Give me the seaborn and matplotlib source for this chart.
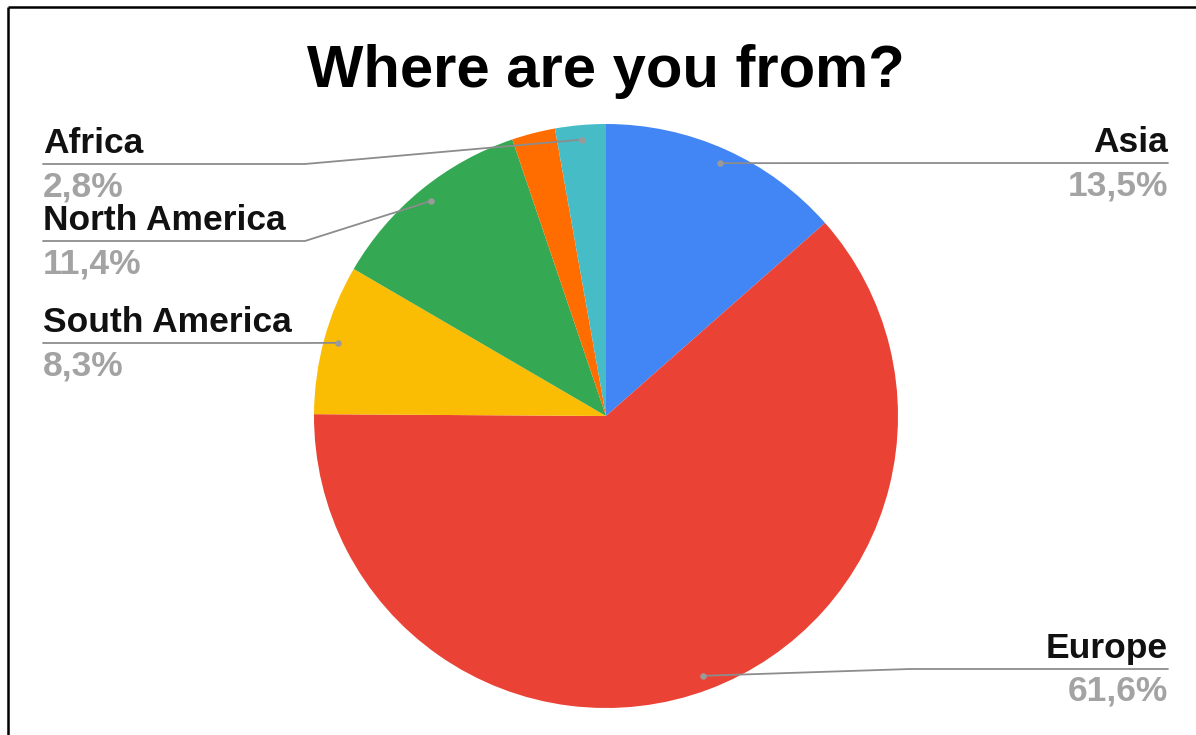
import matplotlib
matplotlib.use("Agg")
import matplotlib.pyplot as plt
import numpy as np
import seaborn as sns

# Survey answers (share of respondents, %), clockwise from 12 o'clock
regions = ["Asia", "Europe", "South America", "North America", "Oceania", "Africa"]
shares = [13.5, 61.6, 8.3, 11.4, 2.4, 2.8]
slice_colors = ["#4285F4", "#EA4335", "#FBBC04", "#34A853", "#FF6D01", "#46BDC6"]
title = "Where are you from?"

# Callout layout: side of the chart and height (px from top) of the label rule
callout_side = {"Asia": "right", "Europe": "right", "South America": "left",
                "North America": "left", "Africa": "left"}
callout_y = {"Asia": 163, "Europe": 669, "South America": 343,
             "North America": 241, "Africa": 164}

sns.set_theme(style="white")
plt.rcParams["font.family"] = ["Liberation Sans", "DejaVu Sans"]

W, H = 1196, 735
fig = plt.figure(figsize=(W / 100, H / 100), dpi=100)
ax = fig.add_axes([0, 0, 1, 1])

palette = sns.color_palette(slice_colors)
cx, cy, R = 606, H - 416, 292
wedges, _ = ax.pie(shares, colors=palette, startangle=90, counterclock=False,
                   center=(cx, cy), radius=R, wedgeprops=dict(linewidth=0))
ax.set_aspect("auto")
ax.set_xlim(0, W)
ax.set_ylim(0, H)
ax.axis("off")

total = sum(shares)
line_col = "#8c8c8c"
left_x, right_x = 43, 1168
elbow = {"left": 305, "right": 910}
label_size = 25.5

for w, name, val in zip(wedges, regions, shares):
    if name not in callout_side:
        continue
    side = callout_side[name]
    mid = np.deg2rad((w.theta1 + w.theta2) / 2)
    dx, dy = cx + 0.95 * R * np.cos(mid), cy + 0.95 * R * np.sin(mid)
    ly = H - callout_y[name]
    ex = elbow[side]
    end = left_x if side == "left" else right_x
    ax.plot([dx, ex, end], [dy, ly, ly], color=line_col, lw=1.3,
            solid_joinstyle="round", zorder=3)
    ax.scatter([dx], [dy], s=22, color="#9a9a9a", zorder=4, linewidths=0)
    ha = "left" if side == "left" else "right"
    ax.text(end, ly + 11, name, ha=ha, va="baseline", fontsize=label_size,
            fontweight="bold", color="#111111", zorder=5)
    pct = f"{val / total * 100:.1f}".replace(".", ",") + "%"
    ax.text(end, ly - 32, pct, ha=ha, va="baseline", fontsize=label_size,
            fontweight="bold", color="#a3a3a3", zorder=5)

ax.text(606, H - 87, title, ha="center", va="baseline", fontsize=43,
        fontweight="bold", color="#000000")

# Outer frame (top and left edges)
ax.plot([8, W], [H - 7, H - 7], color="black", lw=1.8, solid_capstyle="butt")
ax.plot([8, 8], [H - 7, 0], color="black", lw=1.8, solid_capstyle="butt")

fig.savefig("out.png", dpi=100, facecolor="white")
